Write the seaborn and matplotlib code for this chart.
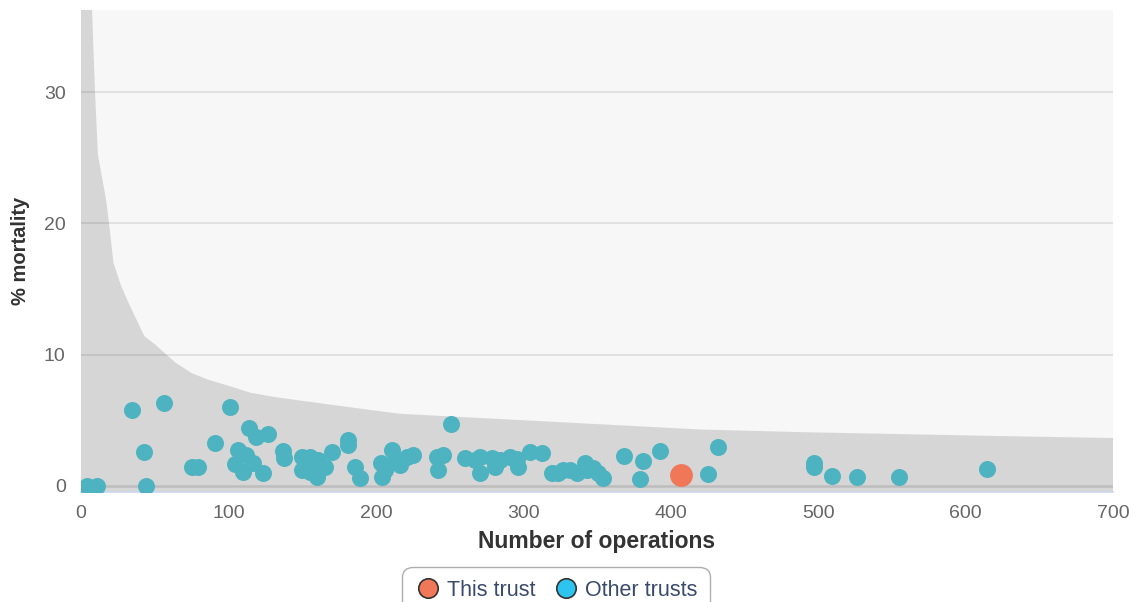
import matplotlib
matplotlib.use("Agg")
import matplotlib.pyplot as plt
from matplotlib.lines import Line2D
import seaborn as sns
import pandas as pd

# ---- data ----
limit_n = [0, 7.5, 9.5, 11.5, 17, 19, 22, 27, 32, 43, 50, 58, 64, 75, 86, 101, 115,
           130, 149, 182, 216, 284, 352, 420, 488, 556, 624, 700]
limit_pct = [100, 36.2, 30, 25.2, 21.8, 20, 17, 15.3, 14, 11.4, 10.8, 10, 9.4, 8.6, 8.1,
             7.6, 7.1, 6.8, 6.5, 6.0, 5.5, 5.1, 4.7, 4.3, 4.1, 3.95, 3.8, 3.65]

this_n = [407]
this_pct = [0.87]

other_n = [3.9, 10.6, 34.6, 56.1, 43, 44.1, 75.5, 79.6, 90.9, 101, 114, 119, 127, 106.7,
           111.7, 104.7, 116.4, 110, 123.3, 137.2, 137.8, 149.7, 155.3, 161, 165.5, 170,
           149.7, 155.3, 159.9, 161, 181, 181.3, 185.9, 189, 203.5, 204.5, 206, 210.7, 213,
           216.4, 221, 225.4, 241.3, 245.8, 242.4, 251, 260.5, 267.2, 270.6, 270.6, 278.6,
           280.8, 284.2, 291, 295.5, 296.2, 304.6, 312.5, 319.3, 323.7, 327.1, 331.7, 336.2,
           341.9, 343, 347.5, 350.9, 354.3, 368.5, 379.2, 381.4, 392.7, 425, 432.3, 497.2,
           497.2, 509.2, 526.1, 554.8, 614.7]
other_pct = [0.0, 0.0, 5.77, 6.3, 2.59, 0.0, 1.47, 1.47, 3.3, 6.0, 4.39, 3.7, 3.98, 2.74,
             2.36, 1.7, 1.73, 1.09, 0.97, 2.7, 2.15, 2.23, 2.23, 1.98, 1.47, 2.55,
             1.22, 1.09, 0.71, 1.35, 3.5, 3.12, 1.47, 0.62, 1.73, 0.71, 1.22, 2.74, 1.98,
             1.6, 2.23, 2.36, 2.23, 2.36, 1.22, 4.72, 2.1, 1.98, 2.23, 1.01, 2.1,
             1.47, 1.98, 2.23, 2.03, 1.42, 2.61, 2.54, 1.01, 1.01, 1.22, 1.22, 0.97,
             1.73, 1.22, 1.35, 0.97, 0.59, 2.28, 0.51, 1.93, 2.69, 0.89, 3.0, 1.78,
             1.42, 0.79, 0.71, 0.71, 1.29]

x_ticks = [0, 100, 200, 300, 400, 500, 600, 700]
y_ticks = [0, 10, 20, 30]
series_names = ["This trust", "Other trusts"]

# ---- style ----
sns.set_style("white")
plt.rcParams['font.family'] = ['Liberation Sans', 'DejaVu Sans']

fig = plt.figure(figsize=(11.36, 6.02), dpi=100)
ax = fig.add_axes([81/1136, 1 - 492/602, (1113 - 81)/1136, (492 - 10)/602])

YMIN, YMAX = -0.46, 36.25
ax.set_facecolor("#F7F7F7")
ax.set_xlim(0, 700)
ax.set_ylim(YMIN, YMAX)

ax.fill_between(limit_n, YMIN, limit_pct, color="#D6D6D6", lw=0, zorder=1)

for yt in y_ticks[1:]:
    ax.axhline(yt, color="black", alpha=0.1, lw=1.2, zorder=2)
ax.axhline(0, color="#BDBDBD", lw=1.8, zorder=2)

other_df = pd.DataFrame({"n": other_n, "pct": other_pct})
this_df = pd.DataFrame({"n": this_n, "pct": this_pct})
sns.scatterplot(data=other_df, x="n", y="pct", ax=ax, color="#4DB3C0", s=150,
                linewidth=0, zorder=3, legend=False)
sns.scatterplot(data=this_df, x="n", y="pct", ax=ax, color="#F07758", s=270,
                linewidth=0, zorder=4, legend=False)

for side in ["left", "right", "top"]:
    ax.spines[side].set_visible(False)
ax.spines["bottom"].set_color("#CCD6EB")
ax.spines["bottom"].set_linewidth(1.2)

ax.set_xticks(x_ticks)
ax.set_yticks(y_ticks)
ax.tick_params(axis="x", colors="#CCD6EB", length=6, width=1.2, labelcolor="#666666",
               labelsize=14, pad=3)
ax.tick_params(axis="y", length=0, labelcolor="#666666", labelsize=14, pad=11)

ax.set_xlabel("Number of operations", fontsize=16.5, fontweight="bold", color="#333333",
              labelpad=6)
ax.set_ylabel("% mortality", fontsize=14.5, fontweight="bold", color="#333333")
ax.yaxis.set_label_coords(-0.049, 0.5)

handles = [
    Line2D([], [], marker="o", ls="", markersize=14, markerfacecolor="#F07758",
           markeredgecolor="#333333", markeredgewidth=1.2),
    Line2D([], [], marker="o", ls="", markersize=14, markerfacecolor="#2EC4F0",
           markeredgecolor="#333333", markeredgewidth=1.2),
]
leg = fig.legend(handles, series_names, loc="center", bbox_to_anchor=(556/1136, 1 - 590/602),
                 ncol=2, frameon=True, fontsize=15.5, handletextpad=0.3, columnspacing=0.8,
                 borderpad=0.5, handlelength=1.2, fancybox=True, labelcolor="#3A4A6B")
leg.get_frame().set_edgecolor("#999999")
leg.get_frame().set_linewidth(1.0)
leg.get_frame().set_boxstyle("round,pad=0.1,rounding_size=0.5")

fig.savefig("out.png", dpi=100, facecolor="white")
